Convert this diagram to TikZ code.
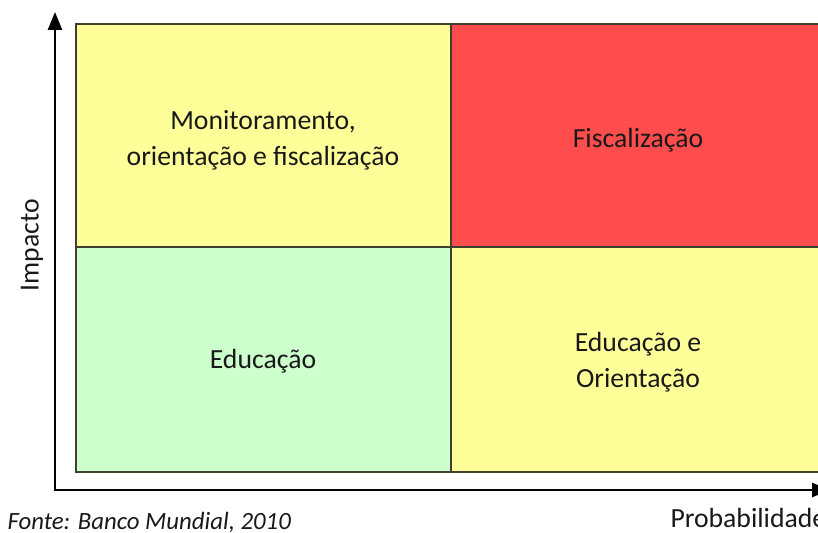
\documentclass[tikz,border=0pt]{standalone}
\usepackage{fontspec}
\setmainfont{Carlito}
\usetikzlibrary{arrows.meta}
\definecolor{qyellow}{HTML}{FFFF99}
\definecolor{qred}{HTML}{FF4D4D}
\definecolor{qgreen}{HTML}{CCFFCC}
\definecolor{qline}{HTML}{404030}
\begin{document}
\begin{tikzpicture}[x=1pt,y=-1pt,
  cell/.style={draw=qline,line width=1.6pt},
  lbl/.style={font=\fontsize{27.7}{36}\selectfont,align=center,text=black!90},
  axis/.style={line width=2.6pt,-{Triangle[length=18pt,width=14pt]}}]
\useasboundingbox (0,0) rectangle (818,532);
\begin{scope}
\clip (0,0) rectangle (818,532);
\fill[qyellow] (76,24) rectangle (451,247);
\fill[qred] (451,24) rectangle (830,247);
\fill[qgreen] (76,247) rectangle (451,472);
\fill[qyellow] (451,247) rectangle (830,472);
\draw[cell] (830,24) -- (76,24) -- (76,472) -- (830,472);
\draw[cell] (451,24) -- (451,472);
\draw[cell] (76,247) -- (830,247);
\coordinate (o) at (55,490);
\coordinate (ytip) at (55,12);
\coordinate (xtip) at (830,490);
\draw[axis] (55,491.3) -- (ytip);
\draw[axis] (53.7,490) -- (xtip);
\node[lbl] (q1) at (263,140) {Monitoramento,\\orientação e fiscalização};
\node[lbl] (q2) at (638,140) {Fiscalização};
\node[lbl] (q3) at (263,361) {Educação};
\node[lbl] (q4) at (638,362) {Educação e\\Orientação};
\node[lbl,rotate=90] (yl) at (32,245) {Impacto};
\node[lbl,anchor=west] (xl) at (667,518) {Probabilidade};
\node[lbl,anchor=west,font=\fontsize{24.8}{30}\selectfont\itshape] (src) at (4,522) {Fonte: Banco Mundial, 2010};
\end{scope}
\end{tikzpicture}
\end{document}
